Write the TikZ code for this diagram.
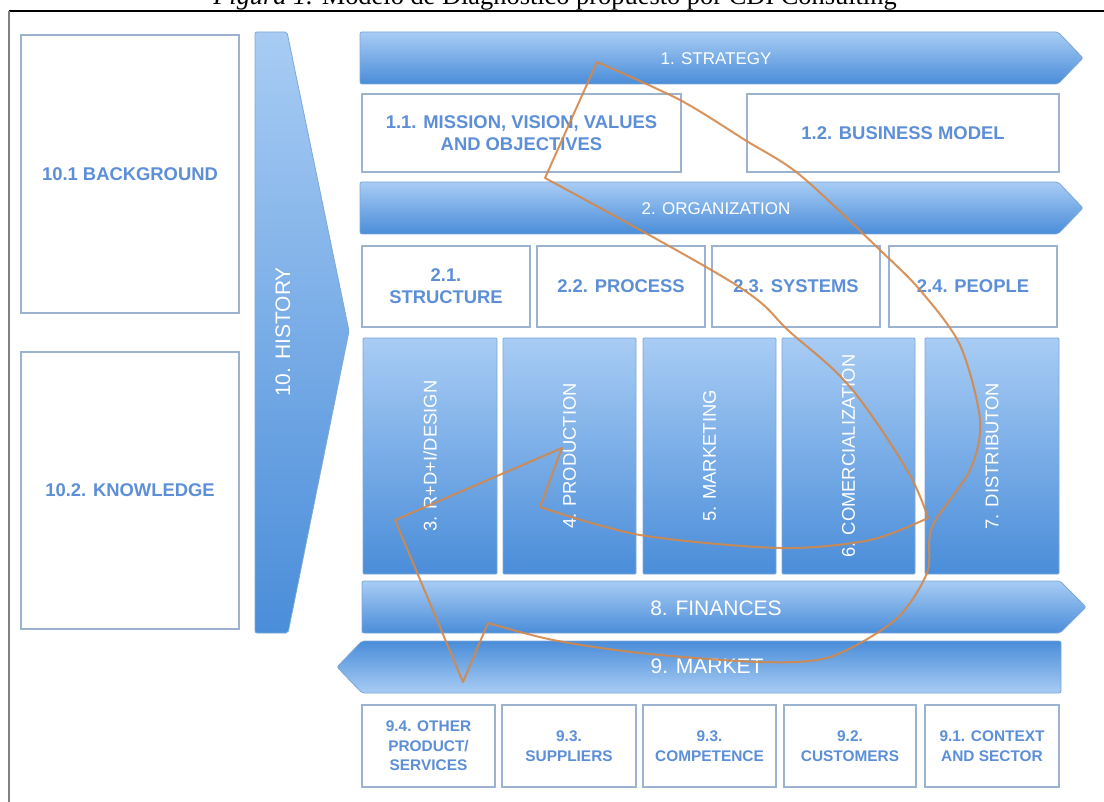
\documentclass[tikz,border=0pt]{standalone}
\usepackage{fontspec}
\setmainfont{Liberation Sans}
\newfontfamily\capfont{Liberation Serif}
\usepackage{tikz}
\usetikzlibrary{positioning, shadows}

\definecolor{boxline}{HTML}{9BB2D0}
\definecolor{boxtxt}{HTML}{5D8FD8}
\definecolor{barlight}{HTML}{A8CCF4}
\definecolor{bardark}{HTML}{4A8DD9}
\definecolor{barline}{HTML}{7CA7D9}
\definecolor{loop}{HTML}{D3884A}

\tikzset{
  sz/.style 2 args={minimum width=#1pt, minimum height=#2pt},
  box/.style={draw=boxline, line width=0.6pt, fill=white, inner sep=0pt, text=boxtxt, align=center,
    font=\bfseries\fontsize{9.2}{11}\selectfont,
    drop shadow={opacity=0.18, shadow xshift=0.5pt, shadow yshift=-0.7pt}},
  smallbox/.style={box, sz={67}{41}, font=\bfseries\fontsize{7.7}{9.75}\selectfont},
  band/.style={draw=barline, line width=0.4pt, top color=barlight, bottom color=bardark, rounded corners=1pt},
  bandtext/.style={text=white, font=\fontsize{8.5}{10}\selectfont},
  bigtext/.style={text=white, font=\fontsize{10.5}{12}\selectfont},
  bar/.style={band, inner sep=0pt, rounded corners=0.5pt, sz={67}{118}},
  bartext/.style={text=white, rotate=90, font=\fontsize{9.2}{11}\selectfont},
  loopline/.style={draw=loop, opacity=0.9, line width=1pt, line join=round}
}

\begin{document}
\begin{tikzpicture}[x=0.5pt, y=-0.5pt]
    \useasboundingbox (0,0) rectangle (1104,802);
    \clip (0,0) rectangle (1104,802);

    % Caption and frame
    \node[anchor=base, font=\capfont\fontsize{13.2}{15}\selectfont] (caption) at (555,5) {\textit{Figura 1.} Modelo de Diagnóstico propuesto por CDI Consulting};
    \draw[line width=0.8pt] (9,11) -- (1104,11);
    \draw[gray, line width=1.1pt] (9,11) -- (9,802);

    % 10. History
    \node[box, sz={109}{139}] (background) at (130,174) {10.1 BACKGROUND};
    \node[box, sz={109}{138.5}] (knowledge) at (130,490.5) {10.2. KNOWLEDGE};
    \path[band] (255,32) -- (287,32) -- (349,331) -- (288,633) -- (255,633) -- cycle;
    \node[bigtext, rotate=90] (history) at (283,332) {10. HISTORY};

    % 1. Strategy
    \path[band] (360,32) -- (1058,32) -- (1083,58) -- (1058,84) -- (360,84) -- cycle;
    \node[bandtext] (strategy) at (716,59) {1. STRATEGY};
    \node[box, sz={159.5}{39}] (mission) at (521.5,133) {1.1. MISSION, VISION, VALUES\\AND OBJECTIVES};
    \node[box, sz={156}{39}] (business) at (903,133) {1.2. BUSINESS MODEL};

    % 2. Organization
    \path[band] (360,182) -- (1058,182) -- (1083,208) -- (1058,234) -- (360,234) -- cycle;
    \node[bandtext] (organization) at (716,209) {2. ORGANIZATION};
    \node[box, sz={84}{40.5}] (structure) at (446,286.5) {2.1.\\STRUCTURE};
    \node[box, sz={84}{40.5}] (process) at (621,286.5) {2.2. PROCESS};
    \node[box, sz={84}{40.5}] (systems) at (796,286.5) {2.3. SYSTEMS};
    \node[box, sz={84}{40.5}] (people) at (973,286.5) {2.4. PEOPLE};

    % Areas 3 to 7
    \node[bar] (design) at (430,456) {};
    \node[bartext] (designtext) at (design.center) {3. R+D+I/DESIGN};
    \node[bar, sz={66.5}{118}] (production) at (569.5,456) {};
    \node[bartext] (productiontext) at (production.center) {4. PRODUCTION};
    \node[bar, sz={66.5}{118}] (marketing) at (709.5,456) {};
    \node[bartext] (marketingtext) at (marketing.center) {5. MARKETING};
    \node[bar, sz={66.5}{118}] (comercial) at (848.5,456) {};
    \node[bartext] (comercialtext) at (comercial.center) {6. COMERCIALIZATION};
    \node[bar] (distribution) at (992,456) {};
    \node[bartext] (distributiontext) at (distribution.center) {7. DISTRIBUTON};

    % 8. Finances
    \path[band] (362,581) -- (1060,581) -- (1086,607) -- (1060,633) -- (362,633) -- cycle;
    \node[bigtext] (finances) at (716,608) {8. FINANCES};

    % 9. Market
    \path[band, top color=bardark, bottom color=barlight] (1061,641) -- (362,641) -- (337,667) -- (362,693) -- (1061,693) -- cycle;
    \node[bigtext] (market) at (707,666) {9. MARKET};
    \node[smallbox, sz={66.5}{41}] (other) at (428.5,746) {9.4. OTHER\\PRODUCT/\\SERVICES};
    \node[smallbox] (suppliers) at (569,746) {9.3.\\SUPPLIERS};
    \node[smallbox, sz={66.5}{41}] (competence) at (709.5,746) {9.3.\\COMPETENCE};
    \node[smallbox, sz={66}{41}] (customers) at (850,746) {9.2.\\CUSTOMERS};
    \node[smallbox] (context) at (992,746) {9.1. CONTEXT\\AND SECTOR};

    % Loop
    \draw[loopline] (597,62) -- (545,178)
      -- plot[smooth, tension=0.6] coordinates {(545,178) (733,283) (790,332) (850,387) (907,470) (928,518)}
      -- plot[smooth] coordinates {(928,518) (870,540) (780,548) (640,535) (540,507)}
      -- (562,448) -- (395,520) -- (463,682) -- (488,623)
      -- plot[smooth] coordinates {(488,623) (553,640) (640,653) (760,662) (830,657) (895,620) (927,573) (932,527) (970,470) (980,420) (960,345) (920,290) (880,250) (800,175) (745,140) (680,100) (597,62)}
      -- cycle;

\end{tikzpicture}
\end{document}
